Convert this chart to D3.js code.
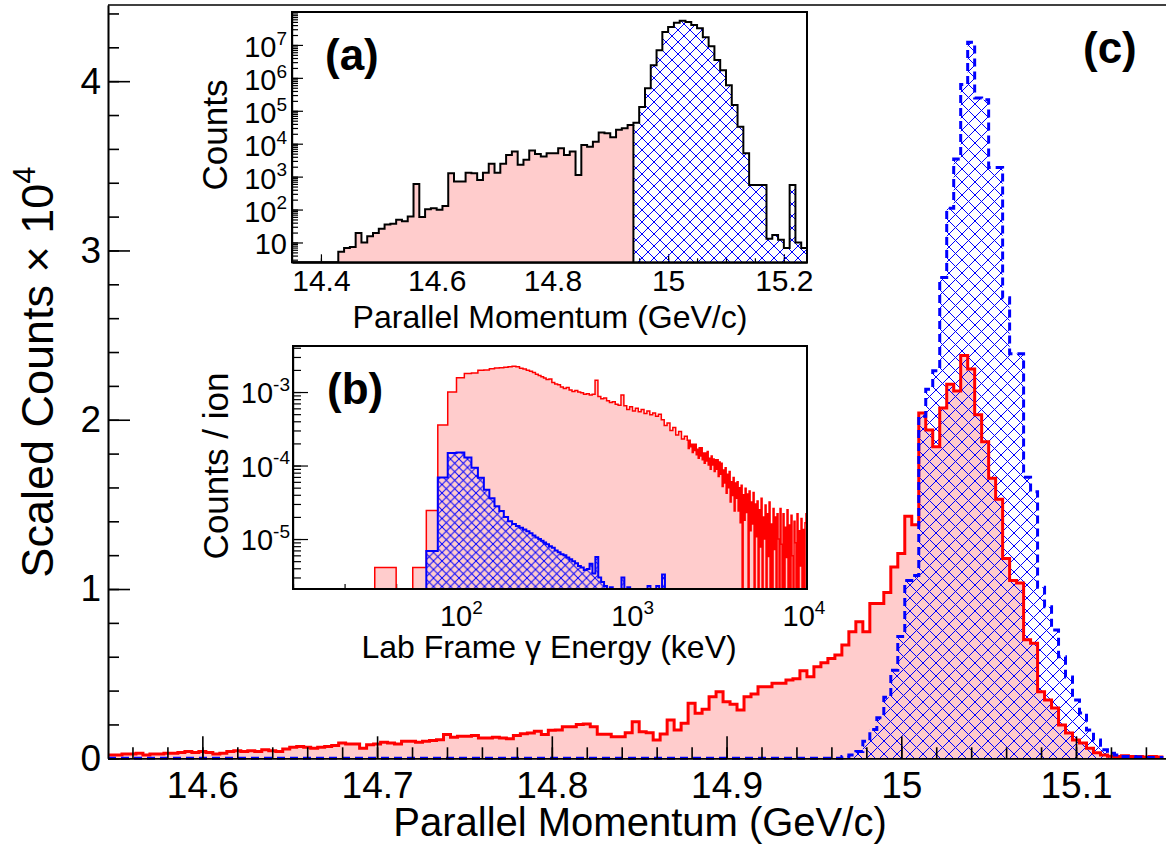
<!DOCTYPE html>
<html>
  <head>
    <title>Parallel momentum spectra</title>
    <script src="https://d3js.org/d3.v7.min.js"></script>
    <style>
      body { margin: 0; background: #fff; }
      svg { font-family: "Liberation Sans", Arial, Helvetica, sans-serif; }
    </style>
  </head>
  <body>
    <svg width="1166" height="845"></svg>

    <script>
      // (c) main panel: scaled counts (x 10^4), bins of 0.004 GeV/c
      const mainBinStart = 14.546;
      const mainBinWidth = 0.004;
      const mainRed = [
        0.02, 0.02, 0.025, 0.025, 0.03, 0.02, 0.025, 0.025, 0.03, 0.03,
        0.035, 0.04, 0.035, 0.04, 0.035, 0.025, 0.03, 0.04, 0.045, 0.04,
        0.045, 0.04, 0.05, 0.045, 0.04, 0.055, 0.065, 0.07, 0.065, 0.06,
        0.065, 0.07, 0.075, 0.09, 0.085, 0.085, 0.06, 0.08, 0.085, 0.095,
        0.09, 0.085, 0.1, 0.1, 0.095, 0.1, 0.105, 0.11, 0.14, 0.125,
        0.13, 0.13, 0.135, 0.12, 0.12, 0.125, 0.12, 0.115, 0.135, 0.145,
        0.15, 0.16, 0.14, 0.165, 0.167, 0.187, 0.187, 0.2, 0.203, 0.187,
        0.142, 0.142, 0.128, 0.128, 0.151, 0.216, 0.157, 0.151, 0.108, 0.144,
        0.226, 0.167, 0.207, 0.325, 0.266, 0.29, 0.364, 0.393, 0.334, 0.32,
        0.285, 0.364, 0.38, 0.423, 0.423, 0.443, 0.443, 0.462, 0.47, 0.517,
        0.482, 0.541, 0.565, 0.59, 0.61, 0.67, 0.748, 0.807, 0.748, 0.915,
        0.915, 0.98, 1.13, 1.21, 1.43, 1.38, 2.04, 1.94, 1.84, 2.07,
        2.21, 2.17, 2.38, 2.30, 2.03, 1.87, 1.655, 1.53, 1.18, 1.05,
        1.035, 0.70, 0.68, 0.393, 0.344, 0.297, 0.197, 0.15, 0.108, 0.09,
        0.06, 0.033, 0.02, 0.012, 0.01, 0.015, 0.01, 0.01, 0.008, 0.01,
        0.008
      ];
      const mainBlue = [
        0, 0, 0, 0, 0, 0, 0, 0, 0, 0,
        0, 0, 0, 0, 0, 0, 0, 0, 0, 0,
        0, 0, 0, 0, 0, 0, 0, 0, 0, 0,
        0, 0, 0, 0, 0, 0, 0, 0, 0, 0,
        0, 0, 0, 0, 0, 0, 0, 0, 0, 0,
        0, 0, 0, 0, 0, 0, 0, 0, 0, 0,
        0, 0, 0, 0, 0, 0, 0, 0, 0, 0,
        0, 0, 0, 0, 0, 0, 0, 0, 0, 0,
        0, 0, 0, 0, 0, 0, 0, 0, 0, 0,
        0, 0, 0, 0, 0, 0, 0, 0, 0, 0,
        0, 0, 0, 0, 0, 0.01, 0.02, 0.04, 0.1, 0.17,
        0.24, 0.36, 0.52, 0.72, 1.05, 1.08, 2.02, 2.18, 2.29, 2.84,
        3.25, 3.54, 3.98, 4.23, 3.90, 3.89, 3.49, 3.49, 2.72, 2.39,
        2.39, 1.66, 1.575, 1.01, 0.895, 0.758, 0.6, 0.48, 0.344, 0.267,
        0.167, 0.108, 0.05, 0.03, 0.02, 0.01, 0.01, 0.008, 0.005, 0.005,
        0.005
      ];
      const mainXTicks = [14.6, 14.7, 14.8, 14.9, 15.0, 15.1];
      const mainXLabels = ["14.6", "14.7", "14.8", "14.9", "15", "15.1"];
      const mainYTicks = [0, 1, 2, 3, 4];

      // (a) inset: counts, bins of 0.01 GeV/c; pink below the cut, hatched above
      const aBinStart = 14.35;
      const aBinWidth = 0.01;
      const aCounts = [
        0, 0, 0, 0, 0, 0, 0, 0,
        5.2, 6.8, 7.3, 19.5, 10, 15.5, 19.5, 26, 35, 37,
        49, 44, 62, 600, 59, 102, 110, 98, 129, 1260,
        710, 710, 1320, 1260, 790, 1320, 2450, 1320, 2450, 4570,
        5750, 2290, 3240, 6170, 4900, 4070, 5130, 5130, 7240, 4570,
        5750, 1120, 9120, 8130, 11500, 21900, 20900, 15800, 26300, 29500,
        37200, 43600, 1.3e5, 4.8e5, 2.4e6, 6.9e6, 2.45e7, 3.5e7, 4.7e7, 5.4e7,
        5.0e7, 4.0e7, 3.2e7, 1.7e7, 9.1e6, 3.5e6, 1.7e6, 6.0e5, 1.5e5, 3.3e4,
        5100, 560, 560, 560, 13, 17, 12, 6.8, 560, 10,
        6.8
      ];
      const aCut = 14.94;
      const aXTicks = [14.4, 14.6, 14.8, 15.0, 15.2];
      const aXLabels = ["14.4", "14.6", "14.8", "15", "15.2"];
      const aYExps = [1, 2, 3, 4, 5, 6, 7];

      // (b) inset: counts / ion vs lab-frame gamma energy (keV)
      const bLowEdges = [10, 20, 30, 40, 50, 60, 70, 80, 90, 100, 110, 120, 130, 140, 150,
        160, 170, 180, 190, 200, 210, 220, 230, 240, 250, 260, 270, 280, 290, 300];
      const bRedLow = [
        0, 0, 4.1e-6, 0, 4.1e-6, 2.45e-5, 3.56e-4, 1.0e-3, 1.56e-3, 1.79e-3,
        1.82e-3, 1.98e-3, 2.0e-3, 2.08e-3, 2.12e-3, 2.14e-3, 2.18e-3, 2.2e-3, 2.24e-3, 2.2e-3,
        2.1e-3, 2.05e-3, 1.98e-3, 1.92e-3, 1.85e-3, 1.75e-3, 1.68e-3, 1.62e-3, 1.55e-3
      ];
      const bBlueLow = [
        0, 0, 0, 0, 0, 6.9e-6, 6.9e-5, 1.48e-4, 1.5e-4, 1.29e-4,
        9.3e-5, 6.8e-5, 4.7e-5, 3.6e-5, 2.8e-5, 2.4e-5, 2.0e-5, 1.75e-5, 1.6e-5, 1.5e-5,
        1.42e-5, 1.35e-5, 1.28e-5, 1.2e-5, 1.12e-5, 1.05e-5, 1.0e-5, 9.5e-6, 9.0e-6
      ];
      // red, 300-2000 keV in equal log bins
      const bRedMid = [
        1.48e-3, 1.51e-3, 1.35e-3, 1.29e-3, 1.26e-3, 1.17e-3, 1.12e-3, 1.15e-3, 1.07e-3, 1.02e-3,
        1.05e-3, 1.00e-3, 9.8e-4, 9.3e-4, 9.5e-4, 9.1e-4, 9.3e-4, 1.45e-3, 8.7e-4, 8.1e-4,
        8.3e-4, 7.6e-4, 7.2e-4, 7.4e-4, 6.8e-4, 6.6e-4, 9.1e-4, 6.5e-4, 5.8e-4, 6.3e-4,
        5.5e-4, 6.0e-4, 5.4e-4, 5.8e-4, 5.1e-4, 5.5e-4, 4.9e-4, 5.2e-4, 4.7e-4, 5.0e-4,
        4.2e-4, 3.5e-4, 3.8e-4, 3.0e-4, 3.3e-4, 2.6e-4, 2.9e-4, 2.3e-4, 2.5e-4
      ];
      // red, 2000-10000 keV in fine equal log bins (noisy tail)
      const bRedTail = [
        2.2e-4, 1.7e-4, 2.2e-4, 1.8e-4, 1.95e-4, 1.5e-4, 1.95e-4, 1.6e-4, 1.95e-4, 1.4e-4,
        1.66e-4, 1.26e-4, 1.74e-4, 1.35e-4, 1.74e-4, 1.2e-4, 1.48e-4, 1.07e-4, 1.48e-4, 1.15e-4,
        1.55e-4, 1.02e-4, 1.26e-4, 8.9e-5, 1.35e-4, 1.02e-4, 1.23e-4, 8.3e-5, 1.2e-4, 8.9e-5,
        1.2e-4, 7.1e-5, 1.12e-4, 7.6e-5, 1.07e-4, 5.2e-5, 8.7e-5, 5.8e-5, 9.3e-5, 4.2e-5,
        7.6e-5, 5.0e-5, 8.3e-5, 3.2e-5, 6.0e-5, 3.9e-5, 6.9e-5, 2.4e-5, 5.8e-5, 3.6e-5,
        6.0e-5, 2.4e-5, 5.0e-5, 1.66e-5, 5.4e-5, 0, 4.0e-5, 1.8e-5, 4.9e-5, 2.3e-5,
        4.1e-5, 0, 4.5e-5, 1.3e-5, 3.2e-5, 1.6e-5, 4.3e-5, 0, 3.0e-5, 1.07e-5,
        3.3e-5, 0, 2.5e-5, 7.8e-6, 3.6e-5, 0, 2.0e-5, 1.0e-5, 2.9e-5, 0,
        2.2e-5, 5.8e-6, 3.2e-5, 0, 1.6e-5, 0, 2.6e-5, 7.2e-6, 2.0e-5, 0,
        2.2e-5, 1.0e-5, 0, 2.6e-5, 8.5e-6, 0, 2.2e-5, 0, 1.45e-5, 5.6e-6,
        2.5e-5, 0, 1.55e-5, 0, 2.1e-5, 5.9e-6, 0, 1.74e-5, 8.9e-6, 0,
        2.2e-5, 0, 1.3e-5, 4.3e-6, 1.9e-5, 0, 1.35e-5, 0, 1.66e-5, 2.2e-5
      ];
      // blue, 300-10000 keV in equal log bins
      const bBlueHigh = [
        8.5e-6, 8.0e-6, 7.6e-6, 7.0e-6, 6.6e-6, 6.2e-6, 6.0e-6, 5.6e-6, 5.3e-6, 5.0e-6,
        4.7e-6, 4.3e-6, 4.1e-6, 3.8e-6, 3.9e-6, 4.6e-6, 3.4e-6, 5.7e-6, 3.0e-6, 2.6e-6,
        2.3e-6, 0, 2.2e-6, 0, 0, 0, 3.0e-6, 0, 2.2e-6, 0,
        0, 0, 0, 0, 0, 2.3e-6, 0, 0, 2.3e-6, 0,
        3.3e-6, 0, 0, 0, 0, 0, 0, 0, 0, 0,
        0, 0, 0, 0, 0, 0, 0, 0, 0, 0,
        0, 0, 0, 0, 0, 0, 0, 0, 0, 0,
        0, 0, 0, 0, 0, 0, 0, 0, 0, 0,
        0, 0, 0, 0, 0, 0, 0, 0, 0, 0
      ];
      const bXExps = [2, 3, 4];
      const bYExps = [-3, -4, -5];

      const pink = "#ffcccc";
      const red = "#ff0000";
      const blue = "#0000ff";

      const svg = d3.select("svg");
      const defs = svg.append("defs");

      function hatch(id, size) {
        const p = defs.append("pattern")
          .attr("id", id)
          .attr("patternUnits", "userSpaceOnUse")
          .attr("width", size)
          .attr("height", size);
        p.append("path")
          .attr("d", `M-1,-1L${size + 1},${size + 1}M${size + 1},-1L-1,${size + 1}`)
          .attr("stroke", blue)
          .attr("stroke-width", 1)
          .attr("fill", "none");
      }
      hatch("hatchMain", 13);
      hatch("hatchA", 12);
      hatch("hatchB", 8.5);

      function clip(id, x0, y0, x1, y1) {
        defs.append("clipPath").attr("id", id)
          .append("rect").attr("x", x0).attr("y", y0).attr("width", x1 - x0).attr("height", y1 - y0);
      }

      // histogram as points for a step-after curve
      function steps(edges, vals) {
        const pts = vals.map((v, i) => [edges[i], v]);
        pts.push([edges[vals.length], vals[vals.length - 1]]);
        return pts;
      }

      function logEdges(from, to, n) {
        return d3.range(n + 1).map(i => from * Math.pow(to / from, i / n));
      }

      function histLine(x, y, floor) {
        return d3.line()
          .x(d => x(d[0]))
          .y(d => y(Math.max(d[1], floor)))
          .curve(d3.curveStepAfter);
      }

      function histArea(x, y, floor, base) {
        return d3.area()
          .x(d => x(d[0]))
          .y0(base)
          .y1(d => y(Math.max(d[1], floor)))
          .curve(d3.curveStepAfter);
      }

      function styleAxis(g, width) {
        g.attr("font-family", null).attr("font-size", null);
        g.selectAll("line, path").attr("stroke", "#000").attr("stroke-width", width);
        g.selectAll("text").attr("fill", "#000");
      }

      function powLabel(g, x, y, exp, size, supSize, anchor) {
        const t = g.append("text")
          .attr("x", x).attr("y", y)
          .attr("text-anchor", anchor)
          .attr("font-size", size);
        t.append("tspan").text("10");
        if (exp !== null) {
          t.append("tspan").attr("dy", -size * 0.42).attr("font-size", supSize).text(exp);
        }
      }

      // ---------------- main panel (c) ----------------
      const M = { x0: 108, x1: 1166, y0: 5, y1: 758.3 };
      const xMain = d3.scaleLinear().domain([14.546, 15.1515]).range([M.x0, M.x1]);
      const yMain = d3.scaleLinear().domain([0, 4.45]).range([M.y1, M.y0]);
      clip("clipMain", M.x0, M.y0, M.x1, M.y1 + 3);

      const mainEdges = d3.range(mainRed.length + 1).map(i => mainBinStart + i * mainBinWidth);
      const redPts = steps(mainEdges, mainRed);
      const bluePts = steps(mainEdges, mainBlue);

      const gMain = svg.append("g").attr("clip-path", "url(#clipMain)");
      gMain.append("path").attr("d", histArea(xMain, yMain, 0, yMain(0))(redPts)).attr("fill", pink);
      gMain.append("path").attr("d", histArea(xMain, yMain, 0, yMain(0))(bluePts)).attr("fill", "url(#hatchMain)");
      gMain.append("path").attr("d", histLine(xMain, yMain, 0)(redPts))
        .attr("fill", "none").attr("stroke", red).attr("stroke-width", 3);
      gMain.append("path").attr("d", histLine(xMain, yMain, 0)(bluePts))
        .attr("fill", "none").attr("stroke", blue).attr("stroke-width", 3)
        .attr("stroke-dasharray", "8,5");

      // axes
      const gxMinor = svg.append("g").attr("transform", `translate(0,${M.y1})`)
        .call(d3.axisBottom(xMain).tickValues(d3.range(14.56, 15.15, 0.02))
          .tickSize(-11).tickSizeOuter(0).tickFormat(""));
      styleAxis(gxMinor, 1.6);
      const gx = svg.append("g").attr("transform", `translate(0,${M.y1})`)
        .call(d3.axisBottom(xMain).tickValues(mainXTicks).tickSize(-22).tickSizeOuter(0)
          .tickPadding(13).tickFormat((d, i) => mainXLabels[i]));
      styleAxis(gx, 1.6);
      gx.selectAll("text").attr("font-size", 37);

      const gyMinor = svg.append("g").attr("transform", `translate(${M.x0},0)`)
        .call(d3.axisLeft(yMain).tickValues(d3.range(0, 4.45, 0.2))
          .tickSize(-11).tickSizeOuter(0).tickFormat(""));
      styleAxis(gyMinor, 1.6);
      const gy = svg.append("g").attr("transform", `translate(${M.x0},0)`)
        .call(d3.axisLeft(yMain).tickValues(mainYTicks).tickSize(-22).tickSizeOuter(0)
          .tickPadding(7).tickFormat(d3.format("d")));
      styleAxis(gy, 1.6);
      gy.selectAll("text").attr("font-size", 37);

      svg.append("line").attr("x1", M.x0).attr("x2", M.x1).attr("y1", M.y0).attr("y2", M.y0)
        .attr("stroke", "#000").attr("stroke-width", 1.6);

      svg.append("text").attr("x", 640).attr("y", 836).attr("text-anchor", "middle")
        .attr("font-size", 40).text("Parallel Momentum (GeV/c)");

      const yTitle = svg.append("text")
        .attr("transform", "translate(53,372) rotate(-90)")
        .attr("text-anchor", "middle").attr("font-size", 45);
      yTitle.append("tspan").text("Scaled Counts \u00d7 10");
      yTitle.append("tspan").attr("dy", -18).attr("font-size", 31).text("4");

      svg.append("text").attr("x", 1083).attr("y", 63).attr("font-size", 44)
        .attr("font-weight", "bold").text("(c)");

      // ---------------- inset (a) ----------------
      const A = { x0: 292, x1: 807, y0: 12, y1: 262.3 };
      const xA = d3.scaleLinear().domain([14.35, 15.24]).range([A.x0, A.x1]);
      const yA = d3.scaleLog().domain([2.5, 1e8]).range([A.y1, A.y0]);
      clip("clipA", A.x0, A.y0, A.x1, A.y1);

      svg.append("rect").attr("x", A.x0).attr("y", A.y0)
        .attr("width", A.x1 - A.x0).attr("height", A.y1 - A.y0).attr("fill", "#fff");

      const aMinorY = [];
      for (let e = 0; e < 8; e++) for (let m = 1; m < 10; m++) {
        const v = m * Math.pow(10, e);
        if (v >= 2.5 && v <= 1e8) aMinorY.push(v);
      }
      const gAyMinor = svg.append("g").attr("transform", `translate(${A.x0},0)`)
        .call(d3.axisLeft(yA).tickValues(aMinorY).tickSize(-6).tickSizeOuter(0).tickFormat(""));
      styleAxis(gAyMinor, 1.2);
      const gAyMajor = svg.append("g").attr("transform", `translate(${A.x0},0)`)
        .call(d3.axisLeft(yA).tickValues(aYExps.map(e => Math.pow(10, e)))
          .tickSize(-11).tickSizeOuter(0).tickFormat(""));
      styleAxis(gAyMajor, 1.2);

      const gAxMinor = svg.append("g").attr("transform", `translate(0,${A.y1})`)
        .call(d3.axisBottom(xA).tickValues(d3.range(14.4, 15.24, 0.05))
          .tickSize(-4).tickSizeOuter(0).tickFormat(""));
      styleAxis(gAxMinor, 1.2);
      const gAx = svg.append("g").attr("transform", `translate(0,${A.y1})`)
        .call(d3.axisBottom(xA).tickValues(aXTicks).tickSize(-8).tickSizeOuter(0)
          .tickPadding(7).tickFormat((d, i) => aXLabels[i]));
      styleAxis(gAx, 1.2);
      gAx.selectAll("text").attr("font-size", 30);

      const aEdges = d3.range(aCounts.length + 1).map(i => aBinStart + i * aBinWidth);
      const aCutIndex = Math.round((aCut - aBinStart) / aBinWidth);
      const aAll = steps(aEdges, aCounts);
      const aLow = steps(aEdges.slice(0, aCutIndex + 1), aCounts.slice(0, aCutIndex));
      const aHigh = steps(aEdges.slice(aCutIndex), aCounts.slice(aCutIndex));

      const gA = svg.append("g").attr("clip-path", "url(#clipA)");
      gA.append("path").attr("d", histArea(xA, yA, 2.5, A.y1)(aLow)).attr("fill", pink);
      gA.append("path").attr("d", histArea(xA, yA, 2.5, A.y1)(aHigh)).attr("fill", "url(#hatchA)");
      gA.append("path").attr("d", histLine(xA, yA, 2.5)(aAll))
        .attr("fill", "none").attr("stroke", "#000").attr("stroke-width", 2);
      gA.append("line")
        .attr("x1", xA(aCut)).attr("x2", xA(aCut))
        .attr("y1", A.y1).attr("y2", yA(aCounts[aCutIndex - 1]))
        .attr("stroke", "#000").attr("stroke-width", 2);

      svg.append("rect").attr("x", A.x0).attr("y", A.y0)
        .attr("width", A.x1 - A.x0).attr("height", A.y1 - A.y0)
        .attr("fill", "none").attr("stroke", "#000").attr("stroke-width", 2);

      const gAlab = svg.append("g");
      aYExps.forEach(e => {
        powLabel(gAlab, 287, yA(Math.pow(10, e)) + 12, e === 1 ? null : String(e), 29, 19, "end");
      });

      svg.append("text").attr("x", 550).attr("y", 328).attr("text-anchor", "middle")
        .attr("font-size", 32).text("Parallel Momentum (GeV/c)");
      svg.append("text").attr("transform", "translate(227,135) rotate(-90)")
        .attr("text-anchor", "middle").attr("font-size", 35).text("Counts");
      svg.append("text").attr("x", 325).attr("y", 70).attr("font-size", 44)
        .attr("font-weight", "bold").text("(a)");

      // ---------------- inset (b) ----------------
      const B = { x0: 293, x1: 807, y0: 346, y1: 589 };
      const xB = d3.scaleLog().domain([10, 1e4]).range([B.x0, B.x1]);
      const yB = d3.scaleLog().domain([2.09e-6, 4.23e-3]).range([B.y1, B.y0]);
      const bFloor = 2.09e-6;
      clip("clipB", B.x0, B.y0, B.x1, B.y1 + 1);

      svg.append("rect").attr("x", B.x0).attr("y", B.y0)
        .attr("width", B.x1 - B.x0).attr("height", B.y1 - B.y0).attr("fill", "#fff");

      const bMinorY = [];
      for (let e = -6; e < -2; e++) for (let m = 1; m < 10; m++) {
        const v = m * Math.pow(10, e);
        if (v >= 2.09e-6 && v <= 4.23e-3) bMinorY.push(v);
      }
      const gByMinor = svg.append("g").attr("transform", `translate(${B.x0},0)`)
        .call(d3.axisLeft(yB).tickValues(bMinorY).tickSize(-8).tickSizeOuter(0).tickFormat(""));
      styleAxis(gByMinor, 1.2);
      const gByMajor = svg.append("g").attr("transform", `translate(${B.x0},0)`)
        .call(d3.axisLeft(yB).tickValues(bYExps.map(e => Math.pow(10, e)))
          .tickSize(-15).tickSizeOuter(0).tickFormat(""));
      styleAxis(gByMajor, 1.2);

      const bMinorX = [];
      for (let e = 1; e < 4; e++) for (let m = 1; m < 10; m++) bMinorX.push(m * Math.pow(10, e));
      const gBxMinor = svg.append("g").attr("transform", `translate(0,${B.y1})`)
        .call(d3.axisBottom(xB).tickValues(bMinorX).tickSize(-5).tickSizeOuter(0).tickFormat(""));
      styleAxis(gBxMinor, 1.2);
      const gBxMajor = svg.append("g").attr("transform", `translate(0,${B.y1})`)
        .call(d3.axisBottom(xB).tickValues([100, 1000]).tickSize(-9).tickSizeOuter(0).tickFormat(""));
      styleAxis(gBxMajor, 1.2);

      const bRedEdges = bLowEdges
        .concat(logEdges(300, 2000, bRedMid.length).slice(1))
        .concat(logEdges(2000, 10000, bRedTail.length).slice(1));
      const bBlueEdges = bLowEdges.concat(logEdges(300, 10000, bBlueHigh.length).slice(1));
      const bRed = steps(bRedEdges, bRedLow.concat(bRedMid, bRedTail));
      const bBlue = steps(bBlueEdges, bBlueLow.concat(bBlueHigh));

      const gB = svg.append("g").attr("clip-path", "url(#clipB)");
      gB.append("path").attr("d", histArea(xB, yB, bFloor, B.y1)(bRed)).attr("fill", pink);
      gB.append("path").attr("d", histLine(xB, yB, bFloor)(bRed))
        .attr("fill", "none").attr("stroke", red).attr("stroke-width", 1.5);
      gB.append("path").attr("d", histArea(xB, yB, bFloor, B.y1)(bBlue)).attr("fill", "url(#hatchB)");
      gB.append("path").attr("d", histLine(xB, yB, bFloor)(bBlue))
        .attr("fill", "none").attr("stroke", blue).attr("stroke-width", 2);

      svg.append("rect").attr("x", B.x0).attr("y", B.y0)
        .attr("width", B.x1 - B.x0).attr("height", B.y1 - B.y0)
        .attr("fill", "none").attr("stroke", "#000").attr("stroke-width", 2);

      const gBlab = svg.append("g");
      bYExps.forEach(e => {
        powLabel(gBlab, 290, yB(Math.pow(10, e)) + 11, String(e), 29, 19, "end");
      });
      bXExps.forEach(e => {
        powLabel(gBlab, xB(Math.pow(10, e)) - 3, 626, String(e), 29, 19, "middle");
      });

      svg.append("text").attr("x", 549).attr("y", 658).attr("text-anchor", "middle")
        .attr("font-size", 32).text("Lab Frame \u03b3 Energy (keV)");
      svg.append("text").attr("transform", "translate(228,466) rotate(-90)")
        .attr("text-anchor", "middle").attr("font-size", 35).text("Counts / ion");
      svg.append("text").attr("x", 327).attr("y", 404).attr("font-size", 44)
        .attr("font-weight", "bold").text("(b)");
    </script>
  </body>
</html>
